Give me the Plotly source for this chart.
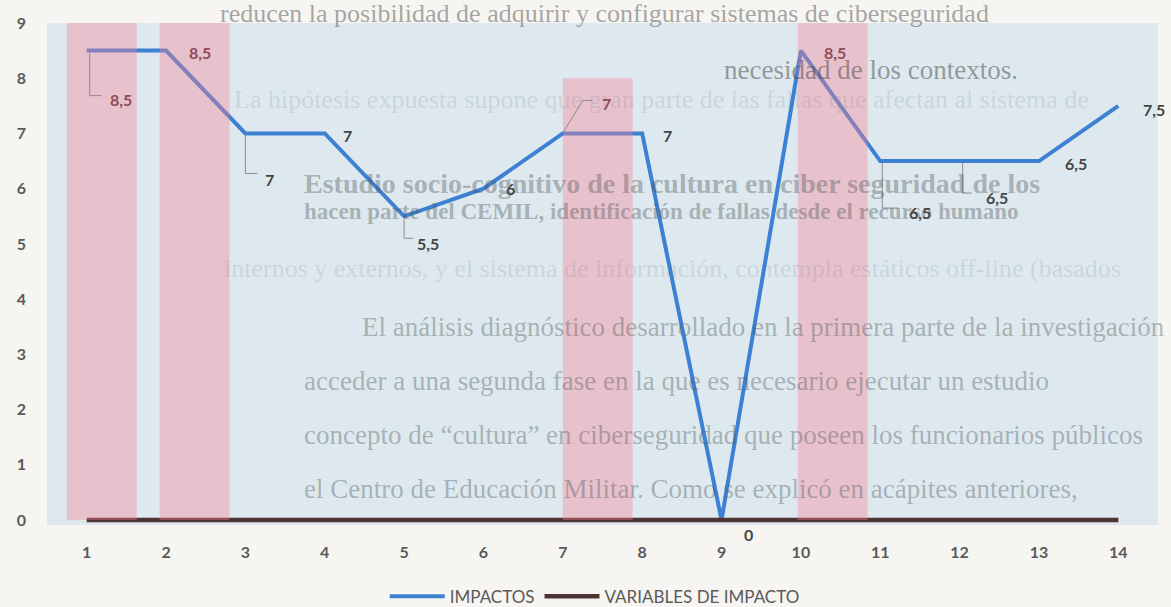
import plotly.graph_objects as go

# ---- data ----
categories = list(range(1, 15))
tick_labels = [str(c) for c in categories]
impactos = [8.5, 8.5, 7, 7, 5.5, 6, 7, 7, 0, 8.5, 6.5, 6.5, 6.5, 7.5]
variables_impacto = [0, 0, 0, 0, 0, 0, 0, 0, 0, 0, 0, 0, 0, 0]
bandas = [9, 9, 0, 0, 0, 0, 8, 0, 0, 9, 0, 0, 0, 0]
y_ticks = [0, 1, 2, 3, 4, 5, 6, 7, 8, 9]

# ---- styling ----
W, H = 1171, 607
M = dict(l=47, r=13, t=23, b=82, autoexpand=False)
PW, PH = W - M["l"] - M["r"], H - M["t"] - M["b"]
BLUE = "#3d80d4"
BROWN = "#4f3434"
PLOT_BG = "#dde9ee"
PAPER_BG = "#f6f5f1"
TICK_FONT = dict(family="Lato", size=16, color="#5a5a5a", weight="bold")

# band placement: left edge relative to the category and common width
band_offsets = [-0.25, -0.08, 0, 0, 0, 0, 0.0, 0, 0, -0.04, 0, 0, 0, 0]
band_width = 0.88

# data-label offsets (px, y up) and elbow leader lines
label_shift = [(34, -49), (34, -2), (24, -46), (23, -2), (24, -27), (27, 0),
               (44, 30), (25, -2), (27, -14), (34, -2), (40, -51), (37, -36),
               (37, -2), (36, -4)]
leaders = {0: [(3, -2), (3, -45), (15, -45)],
           2: [(0, -2), (0, -40), (12, -40)],
           4: [(0, -2), (0, -22), (9, -22)],
           6: [(1, 2), (20, 33), (30, 33)],
           10: [(2, -2), (2, -47), (18, -47)],
           11: [(3, -2), (3, -32), (12, -32)]}

fig = go.Figure()

# faint page text showing through the printed chart (drawn first, under the labels)
page_text = [
    (218, 13, "reducen la posibilidad de adquirir y configurar sistemas de ciberseguridad", 26, "rgba(95,95,95,0.55)", "normal"),
    (722, 70, "necesidad de los contextos.", 27, "rgba(70,70,70,0.5)", "normal"),
    (232, 100, "La hipótesis expuesta supone que gran parte de las fallas que afectan al sistema de", 26, "rgba(120,130,140,0.2)", "normal"),
    (302, 183, "Estudio socio-cognitivo de la cultura en ciber seguridad de los", 28, "rgba(80,85,90,0.4)", "bold"),
    (302, 211, "hacen parte del CEMIL, identificación de fallas desde el recurso humano", 23, "rgba(80,85,90,0.4)", "bold"),
    (222, 268, "internos y externos, y el sistema de información, contempla estáticos off-line (basados", 26, "rgba(120,130,140,0.2)", "normal"),
    (360, 327, "El análisis diagnóstico desarrollado en la primera parte de la investigación", 27, "rgba(80,85,90,0.4)", "normal"),
    (302, 381, "acceder a una segunda fase en la que es necesario ejecutar un estudio", 27, "rgba(80,85,90,0.4)", "normal"),
    (302, 435, "concepto de “cultura” en ciberseguridad que poseen los funcionarios públicos", 27, "rgba(80,85,90,0.4)", "normal"),
    (302, 489, "el Centro de Educación Militar. Como se explicó en acápites anteriores,", 27, "rgba(80,85,90,0.4)", "normal"),
]
for px, py, txt, size, col, wt in page_text:
    fig.add_annotation(
        x=(px - M["l"]) / PW, y=(H - M["b"] - py) / PH, xref="paper", yref="paper",
        xanchor="left", yanchor="middle", showarrow=False, text=txt,
        font=dict(family="Liberation Serif", size=size, color=col, weight=wt))

fig.add_trace(go.Scatter(
    x=categories, y=impactos, mode="lines", name="IMPACTOS",
    line=dict(color=BLUE, width=4)))
fig.add_trace(go.Scatter(
    x=categories, y=variables_impacto, mode="lines", name="VARIABLES DE IMPACTO",
    line=dict(color=BROWN, width=4.5)))

# translucent highlight bands drawn over the lines
fig.add_trace(go.Bar(
    x=categories, y=bandas, yaxis="y2", offset=band_offsets, width=band_width,
    marker=dict(color="rgba(248,128,150,0.38)", line=dict(width=0)),
    showlegend=False, hoverinfo="skip"))

# data labels
for i, (c, v) in enumerate(zip(categories, impactos)):
    dx, dy = label_shift[i]
    covered = bandas[i] > 0
    fig.add_annotation(
        x=c, y=v, xref="x", yref="y", showarrow=False,
        text=f"{v:g}".replace(".", ","), xshift=dx, yshift=dy,
        font=dict(family="Lato", size=16, weight="bold",
                  color="#8f4c5a" if covered else "#454545"))

for i, pts in leaders.items():
    path = "M" + " L".join(f"{px},{py}" for px, py in pts)
    fig.add_shape(type="path", path=path, xref="x", yref="y",
                  xsizemode="pixel", ysizemode="pixel",
                  xanchor=categories[i], yanchor=impactos[i],
                  line=dict(color="#8c8c8c", width=1), layer="above")

fig.update_layout(
    width=W, height=H, margin=M,
    paper_bgcolor=PAPER_BG, plot_bgcolor=PLOT_BG,
    xaxis=dict(range=[0.5, 14.5], tickvals=categories, ticktext=tick_labels,
               showgrid=False, zeroline=False, showline=False, ticks="",
               tickfont=TICK_FONT, ticklabelstandoff=16),
    yaxis=dict(range=[-0.09, 9.0], tickvals=y_ticks, showgrid=False,
               zeroline=False, showline=False, ticks="", tickfont=TICK_FONT,
               ticklabelstandoff=20),
    yaxis2=dict(range=[-0.09, 9.0], overlaying="y", visible=False),
    legend=dict(orientation="h", x=0.493, xanchor="center", y=-0.143,
                yanchor="middle", itemwidth=55,
                font=dict(family="Lato", size=17, color="#5a5a5a"),
                bgcolor="rgba(0,0,0,0)"),
    showlegend=True,
)

fig.write_html("out.html")
